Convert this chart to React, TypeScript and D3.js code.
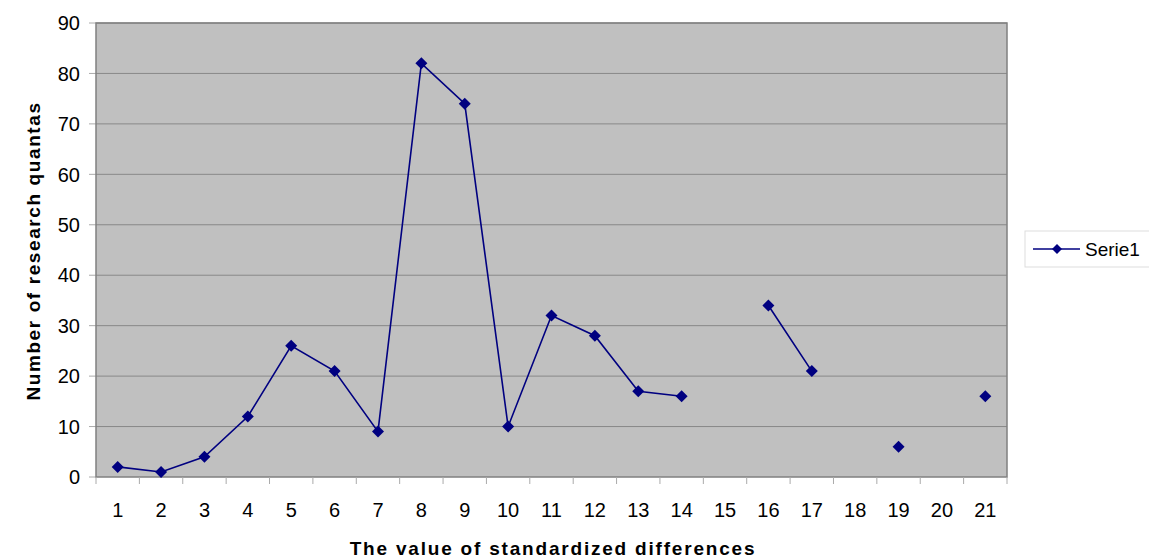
import React from "react";
import * as d3 from "d3";

const categories = ["1","2","3","4","5","6","7","8","9","10","11","12","13","14","15","16","17","18","19","20","21"];
const serie1: (number | null)[] = [2, 1, 4, 12, 26, 21, 9, 82, 74, 10, 32, 28, 17, 16, null, 34, 21, null, 6, null, 16];
const yTicks = [0, 10, 20, 30, 40, 50, 60, 70, 80, 90];
const seriesName = "Serie1";
const xTitle = "The value of standardized differences";
const yTitle = "Number of research quantas";

export default function App() {
  const W = 1149, H = 558;
  const L = 96, R = 1007, T = 23, B = 477;
  const x = d3.scaleBand<string>().domain(categories).range([L, R]);
  const y = d3.scaleLinear().domain([0, 90]).range([B, T]);
  const cx = (c: string) => (x(c) as number) + x.bandwidth() / 2;
  const pts = categories.map((c, i) => ({ c, v: serie1[i] }));
  const line = d3.line<{ c: string; v: number | null }>()
    .defined(d => d.v !== null)
    .x(d => cx(d.c))
    .y(d => y(d.v as number));
  const font = "'Liberation Sans', Arial, sans-serif";
  const diamond = (px: number, py: number, r: number) =>
    `M${px},${py - r}L${px + r},${py}L${px},${py + r}L${px - r},${py}Z`;
  const boundaries = categories.map(c => x(c) as number).concat([R]);
  return (
    <svg width={W} height={H} style={{ position: "absolute", left: 0, top: 0 }} fontFamily={font}>
      <rect x={0} y={0} width={W} height={H} fill="#fff" />
      <rect x={L} y={T} width={R - L} height={B - T} fill="#c0c0c0" />
      {yTicks.map(t => (
        <g key={t}>
          {t > 0 && <line x1={L} x2={R} y1={y(t)} y2={y(t)} stroke="#888" strokeWidth={1} />}
          <line x1={L - 7} x2={L} y1={y(t)} y2={y(t)} stroke="#aaa" strokeWidth={1} />
          <text x={80} y={y(t)} dy="0.36em" textAnchor="end" fontSize={20} fill="#000">{t}</text>
        </g>
      ))}
      <rect x={L} y={T} width={R - L} height={B - T} fill="none" stroke="#808080" strokeWidth={1.5} />
      {boundaries.map((b, i) => (
        <line key={i} x1={b} x2={b} y1={B} y2={B + 7} stroke="#aaa" strokeWidth={1} />
      ))}
      {categories.map(c => (
        <text key={c} x={cx(c)} y={517} textAnchor="middle" fontSize={20} fill="#000">{c}</text>
      ))}
      <path d={line(pts) || ""} fill="none" stroke="#000080" strokeWidth={1.6} />
      {pts.filter(p => p.v !== null).map(p => (
        <path key={p.c} d={diamond(cx(p.c), y(p.v as number), 6)} fill="#000080" />
      ))}
      <text x={553} y={555} textAnchor="middle" fontSize={19} fontWeight="bold" letterSpacing={1.8}>{xTitle}</text>
      <text transform={`translate(40,251) rotate(-90)`} textAnchor="middle" fontSize={19} fontWeight="bold" letterSpacing={1.6}>{yTitle}</text>
      <rect x={1025} y={231} width={130} height={36} fill="#fff" stroke="#ddd" strokeWidth={1} />
      <line x1={1033} x2={1080} y1={249} y2={249} stroke="#000080" strokeWidth={1.6} />
      <path d={diamond(1057, 249, 5)} fill="#000080" />
      <text x={1085} y={249} dy="0.36em" fontSize={19}>{seriesName}</text>
    </svg>
  );
}
